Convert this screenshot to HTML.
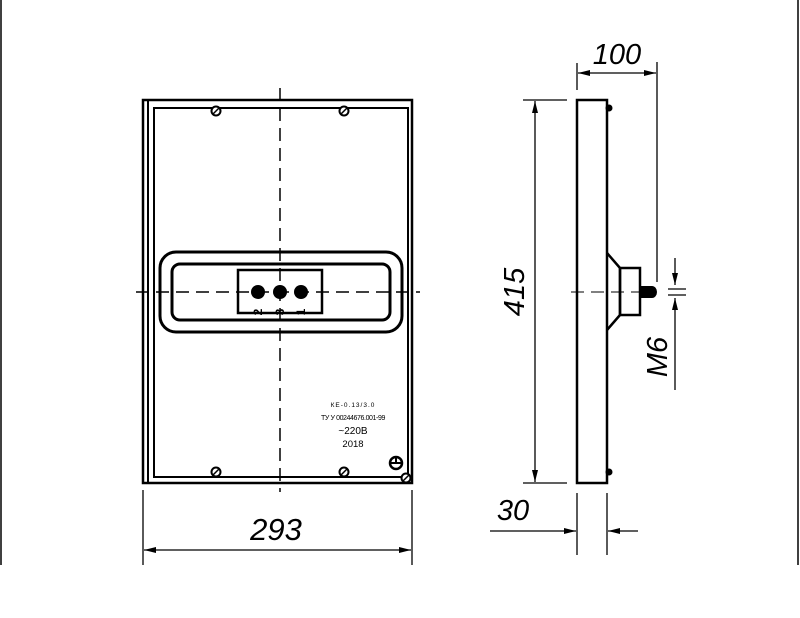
<!DOCTYPE html>
<html><head><meta charset="utf-8"><style>
html,body{margin:0;padding:0;background:#fff;}
svg{display:block;}
text{font-family:"Liberation Sans",sans-serif;}
</style></head><body>
<svg width="800" height="618" viewBox="0 0 800 618" xmlns="http://www.w3.org/2000/svg">
<defs>
<marker id="a" viewBox="0 0 12 6" refX="12" refY="3" markerWidth="12" markerHeight="6" orient="auto-start-reverse" markerUnits="userSpaceOnUse"><path d="M0,0 L12,3 L0,6z" fill="#000"/></marker>
</defs>
<line x1="1" y1="0" x2="1" y2="565" stroke="#000" stroke-width="1.5"/>
<line x1="798" y1="0" x2="798" y2="565" stroke="#000" stroke-width="1.5"/>
<!-- front view -->
<g fill="none" stroke="#000">
<rect x="143" y="100" width="269" height="383" stroke-width="2.5"/>
<line x1="148" y1="100" x2="148" y2="483" stroke-width="2"/>
<rect x="154" y="108" width="254" height="369" stroke-width="2"/>
<rect x="160" y="252" width="242" height="80" rx="16" stroke-width="3"/>
<rect x="172" y="264" width="218" height="56" rx="8" stroke-width="3"/>
<rect x="238" y="270" width="84" height="43" stroke-width="2.5"/>
<line x1="280" y1="88" x2="280" y2="492" stroke-width="1.5" stroke-dasharray="13,7"/>
<line x1="136" y1="292" x2="420" y2="292" stroke-width="1.5" stroke-dasharray="13,7"/>
</g>
<g fill="#000">
<circle cx="258" cy="292" r="7"/><circle cx="280" cy="292" r="7"/><circle cx="301" cy="292" r="7"/>
</g>
<g font-size="12" font-weight="bold">
<text transform="translate(262,312) rotate(-90)" text-anchor="middle">2</text>
<text transform="translate(284,312) rotate(-90)" text-anchor="middle">3</text>
<text transform="translate(305,312) rotate(-90)" text-anchor="middle">1</text>
</g>
<g stroke="#000" stroke-width="2" fill="#fff">
<circle cx="216" cy="111" r="4.5"/><circle cx="344" cy="111" r="4.5"/>
<circle cx="216" cy="472" r="4.5"/><circle cx="344" cy="472" r="4.5"/>
<circle cx="406" cy="478" r="4.5"/>
</g>
<g stroke="#000" stroke-width="1.5">
<line x1="213" y1="114" x2="219" y2="108"/><line x1="341" y1="114" x2="347" y2="108"/>
<line x1="213" y1="475" x2="219" y2="469"/><line x1="341" y1="475" x2="347" y2="469"/>
<line x1="403" y1="481" x2="409" y2="475"/>
</g>
<circle cx="396" cy="463" r="6" fill="#fff" stroke="#000" stroke-width="2.5"/>
<path d="M396,457 V463 M390,463 H402" stroke="#000" stroke-width="2"/>
<g text-anchor="middle" fill="#000">
<text x="353" y="407" font-size="6.5" letter-spacing="1">КЕ-0.13/3.0</text>
<text x="353" y="420" font-size="7" letter-spacing="-0.4">ТУ У 00244676.001-99</text>
<text x="353" y="434" font-size="10">~220В</text>
<text x="353" y="447" font-size="9.5">2018</text>
</g>
<!-- 293 dim -->
<g stroke="#000" stroke-width="1.3">
<line x1="143" y1="490" x2="143" y2="565"/><line x1="412" y1="490" x2="412" y2="565"/>
<line x1="144" y1="550" x2="411" y2="550" marker-start="url(#a)" marker-end="url(#a)"/>
</g>
<text x="276" y="540" font-size="31" font-style="italic" text-anchor="middle">293</text>
<!-- side view -->
<g fill="none" stroke="#000" stroke-width="2.5">
<rect x="577" y="100" width="30" height="383"/>
<path d="M607,253 L620,268 L620,315 L607,330"/>
<rect x="620" y="268" width="20" height="47"/>
</g>
<path d="M640,286 h12 a5,6 0 0 1 0,12 h-12z" fill="#000"/>
<circle cx="609" cy="108" r="3.5" fill="#000"/><circle cx="609" cy="472" r="3.5" fill="#000"/>
<line x1="571" y1="292" x2="652" y2="292" stroke="#000" stroke-width="1" stroke-dasharray="13,7"/>
<g stroke="#000" stroke-width="1.3">
<line x1="577" y1="63" x2="577" y2="90"/><line x1="657" y1="62" x2="657" y2="282"/>
<line x1="578" y1="73" x2="656" y2="73" marker-start="url(#a)" marker-end="url(#a)"/>
<line x1="523" y1="100" x2="567" y2="100"/><line x1="523" y1="483" x2="567" y2="483"/>
<line x1="535" y1="101" x2="535" y2="482" marker-start="url(#a)" marker-end="url(#a)"/>
<line x1="577" y1="493" x2="577" y2="555"/><line x1="607" y1="493" x2="607" y2="555"/>
<line x1="490" y1="531" x2="576" y2="531" marker-end="url(#a)"/>
<line x1="638" y1="531" x2="608" y2="531" marker-end="url(#a)"/>
<line x1="675" y1="258" x2="675" y2="285" marker-end="url(#a)"/>
<line x1="675" y1="390" x2="675" y2="298" marker-end="url(#a)"/>
<line x1="668" y1="289" x2="686" y2="289"/><line x1="668" y1="295" x2="686" y2="295"/>
</g>
<g font-size="29" font-style="italic" fill="#000">
<text x="617" y="64" text-anchor="middle">100</text>
<text x="513" y="520" text-anchor="middle">30</text>
<text transform="translate(524,292) rotate(-90)" text-anchor="middle">415</text>
<text transform="translate(667,357) rotate(-90)" text-anchor="middle">M6</text>
</g>
</svg>
</body></html>
